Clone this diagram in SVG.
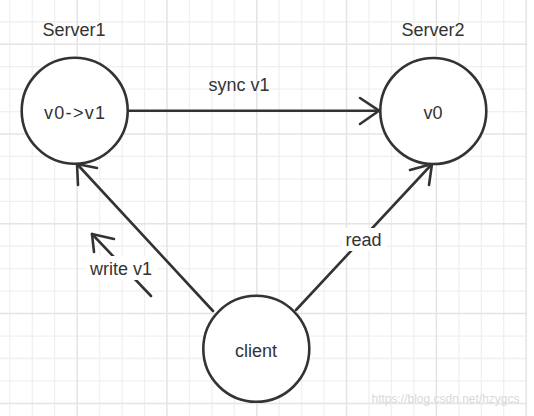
<svg xmlns="http://www.w3.org/2000/svg" width="534" height="416" viewBox="0 0 534 416">
<defs>
<style>
.minor{stroke:#f0f0f0;stroke-width:1.3}
.major{stroke:#e4e4e4;stroke-width:1.5}
.node{fill:#ffffff;stroke:#333333;stroke-width:2.6}
.edge{fill:none;stroke:#333333;stroke-width:2.6;stroke-linecap:round;stroke-linejoin:round}
.t{font-family:"Liberation Sans",Arial,sans-serif;font-size:18px;fill:#333333;text-anchor:middle}
.wm{font-family:"Liberation Sans",Arial,sans-serif;font-size:12px;fill:#d9d9d9;text-anchor:middle}
</style>
</defs>
<rect width="534" height="416" fill="#ffffff"/>
<g id="grid">
<g class="minor">
<line x1="9.8" y1="0" x2="9.8" y2="416"/><line x1="32.25" y1="0" x2="32.25" y2="416"/><line x1="54.7" y1="0" x2="54.7" y2="416"/>
<line x1="99.6" y1="0" x2="99.6" y2="416"/><line x1="122.05" y1="0" x2="122.05" y2="416"/><line x1="144.5" y1="0" x2="144.5" y2="416"/>
<line x1="189.4" y1="0" x2="189.4" y2="416"/><line x1="211.85" y1="0" x2="211.85" y2="416"/><line x1="234.3" y1="0" x2="234.3" y2="416"/>
<line x1="279.2" y1="0" x2="279.2" y2="416"/><line x1="301.65" y1="0" x2="301.65" y2="416"/><line x1="324.1" y1="0" x2="324.1" y2="416"/>
<line x1="369" y1="0" x2="369" y2="416"/><line x1="391.45" y1="0" x2="391.45" y2="416"/><line x1="413.9" y1="0" x2="413.9" y2="416"/>
<line x1="458.8" y1="0" x2="458.8" y2="416"/><line x1="481.25" y1="0" x2="481.25" y2="416"/><line x1="503.7" y1="0" x2="503.7" y2="416"/>
<line x1="0" y1="21.75" x2="527" y2="21.75"/><line x1="0" y1="66.65" x2="527" y2="66.65"/><line x1="0" y1="89.1" x2="527" y2="89.1"/><line x1="0" y1="111.55" x2="527" y2="111.55"/>
<line x1="0" y1="156.45" x2="527" y2="156.45"/><line x1="0" y1="178.9" x2="527" y2="178.9"/><line x1="0" y1="201.35" x2="527" y2="201.35"/>
<line x1="0" y1="246.25" x2="527" y2="246.25"/><line x1="0" y1="268.7" x2="527" y2="268.7"/><line x1="0" y1="291.15" x2="527" y2="291.15"/>
<line x1="0" y1="336.05" x2="527" y2="336.05"/><line x1="0" y1="358.5" x2="527" y2="358.5"/><line x1="0" y1="380.95" x2="527" y2="380.95"/>
</g>
<g class="major">
<line x1="77.15" y1="0" x2="77.15" y2="416"/><line x1="166.95" y1="0" x2="166.95" y2="416"/><line x1="256.75" y1="0" x2="256.75" y2="416"/>
<line x1="346.55" y1="0" x2="346.55" y2="416"/><line x1="436.35" y1="0" x2="436.35" y2="416"/><line x1="526.15" y1="0" x2="526.15" y2="416"/>
<line x1="0" y1="44.2" x2="527" y2="44.2"/><line x1="0" y1="134" x2="527" y2="134"/><line x1="0" y1="223.8" x2="527" y2="223.8"/>
<line x1="0" y1="313.6" x2="527" y2="313.6"/><line x1="0" y1="403.4" x2="527" y2="403.4"/>
</g>
</g>
<g id="connectors">
<g id="sync">
<line class="edge" x1="128" y1="110.7" x2="379" y2="110.7"/>
<polyline class="edge" points="360,98 379,110.7 360,124"/>
<text class="t" x="239" y="91">sync v1</text>
</g>
<g id="write">
<line class="edge" x1="213" y1="311" x2="77" y2="164"/>
<polyline class="edge" points="78,185 77,164 97,168"/>
</g>
<g id="write-hint">
<line class="edge" x1="151" y1="296" x2="92" y2="234"/>
<polyline class="edge" points="94,252 92,234 114,239"/>
<rect x="85" y="256" width="73" height="24" fill="#ffffff"/>
<text class="t" x="121" y="275">write v1</text>
</g>
<g id="read">
<line class="edge" x1="296" y1="310" x2="432" y2="164"/>
<polyline class="edge" points="429,185 432,164 410,170"/>
<rect x="340" y="228" width="47" height="23" fill="#ffffff"/>
<text class="t" x="363.5" y="246">read</text>
</g>
</g>
<g id="server1">
<circle class="node" cx="74.7" cy="110.7" r="53"/>
<text class="t" x="74" y="36">Server1</text>
<text class="t" x="74.5" y="119" textLength="61">v0-&gt;v1</text>
</g>
<g id="server2">
<circle class="node" cx="433.3" cy="111" r="53"/>
<text class="t" x="433" y="36">Server2</text>
<text class="t" x="433" y="119">v0</text>
</g>
<g id="client">
<circle class="node" cx="256.3" cy="348.8" r="53"/>
<text class="t" x="256" y="357">client</text>
</g>
<text class="wm" x="445.5" y="403">https://blog.csdn.net/hzygcs</text>
</svg>
